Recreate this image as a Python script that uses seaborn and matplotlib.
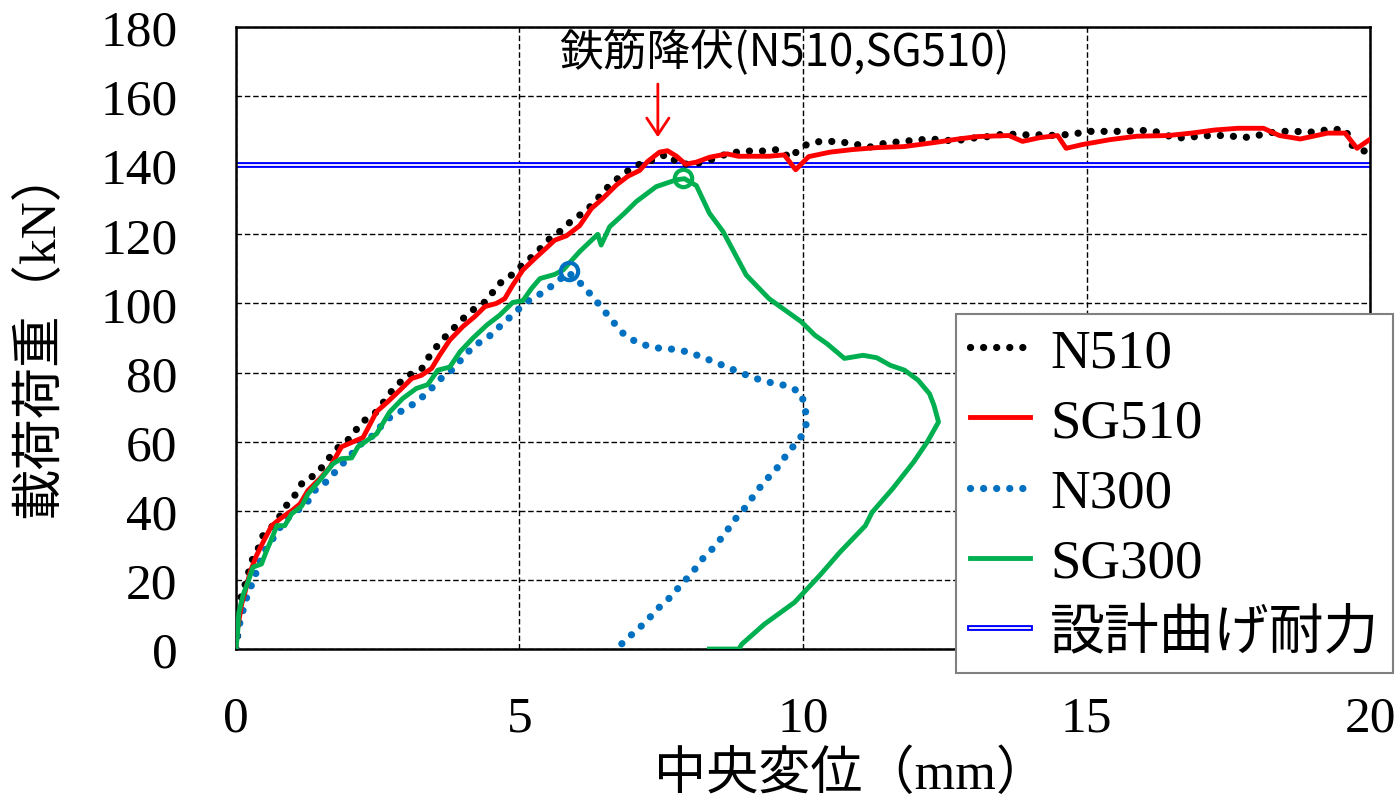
import matplotlib
matplotlib.use('Agg')
import matplotlib.pyplot as plt
import matplotlib.patheffects as pe
from matplotlib.font_manager import FontProperties
import seaborn as sns

# load-displacement data (mm, kN)
n510_x = [0, 0.06, 0.08, 0.16, 0.23, 0.32, 0.39, 0.48, 0.72, 0.85,
          1.02, 1.18, 1.43, 1.6, 1.8, 2.04, 2.2, 2.43, 2.61, 2.78,
          3.0, 3.28, 3.42, 3.61, 3.82, 4.04, 4.25, 4.44, 4.6, 4.85,
          5.06, 5.29, 5.5, 5.74, 5.94, 6.17, 6.38, 6.57, 6.82, 7.07,
          7.33, 7.6, 7.82, 8.1, 8.4, 8.69, 8.98, 9.28, 9.59, 9.77,
          9.99, 10.27, 10.57, 10.87, 11.16, 11.45, 11.77, 12.07, 12.36, 12.67,
          12.96, 13.27, 13.56, 13.87, 14.17, 14.47, 14.78, 15.07, 15.37, 15.67,
          15.97, 16.27, 16.56, 16.86, 17.17, 17.47, 17.78, 18.07, 18.37, 18.67,
          18.97, 19.27, 19.57, 19.67, 19.9]
n510_y = [0, 8, 14.5, 18.6, 22.6, 27.5, 29, 33, 36.8, 40.8,
          44, 48.4, 50.7, 54.5, 58.3, 61.4, 65.5, 67.8, 71.6, 75.4,
          78.8, 81.2, 85, 89, 92.5, 96.2, 99.1, 100.9, 105.2, 108.1,
          111.3, 114.5, 118.3, 121.2, 124.3, 126.7, 130.4, 133.9, 137.4, 140,
          141.4, 143.2, 140.3, 140.4, 141.7, 143.5, 144.1, 144.1, 144.6, 142,
          145.6, 146.8, 146.9, 146.3, 145.2, 146.4, 146.9, 147.4, 147.5, 147,
          147.8, 148.3, 149.1, 148.8, 148.8, 148.6, 149.1, 149.8, 149.8, 149.8,
          150.1, 149.6, 147.8, 148.2, 148.6, 148.6, 148, 148.8, 149.8, 149.8,
          149.6, 150.3, 150.4, 145.9, 144.1]

sg510_x = [0, 0.02, 0.1, 0.16, 0.25, 0.36, 0.48, 0.63, 0.78, 0.98,
           1.13, 1.27, 1.48, 1.66, 1.86, 2.24, 2.48, 2.68, 2.89, 3.1,
           3.27, 3.45, 3.59, 3.77, 4.0, 4.21, 4.39, 4.59, 4.74, 4.88,
           5.06, 5.27, 5.47, 5.62, 5.83, 6.06, 6.27, 6.47, 6.71, 6.91,
           7.12, 7.26, 7.47, 7.61, 7.77, 7.93, 8.12, 8.35, 8.66, 8.86,
           9.4, 9.67, 9.87, 10.1, 10.48, 10.85, 11.3, 11.78, 12.33, 12.74,
           13.08, 13.63, 13.87, 14.18, 14.49, 14.64, 14.93, 15.41, 15.89, 16.44,
           16.85, 17.26, 17.67, 18.12, 18.4, 18.77, 19.25, 19.56, 19.77, 19.99]
sg510_y = [0, 5, 13, 16.5, 22.3, 27, 31, 35.7, 37.7, 40,
           42, 45.9, 49.3, 52.7, 58.5, 61.2, 68.7, 71.6, 74.9, 78.3,
           79.2, 81.2, 85, 89.4, 93.3, 96.2, 99.1, 100, 101.4, 105.3,
           109.7, 113, 116, 118.3, 119.6, 122.5, 127.5, 130.4, 134.3, 136.8,
           138.5, 141.1, 143.8, 144.2, 142.6, 140.3, 140.9, 142.3, 143.3, 142.6,
           142.6, 143, 138.7, 142.5, 143.8, 144.5, 145.1, 145.4, 146.6, 147.6,
           148.3, 148.6, 146.9, 148, 148.6, 144.9, 146, 147.4, 148.4, 148.6,
           149.3, 150.2, 150.7, 150.7, 148.6, 147.6, 149.3, 149.3, 144.9, 147.4]

n300_x = [0, 0.03, 0.1, 0.18, 0.28, 0.39, 0.49, 0.63, 0.78, 0.98,
          1.22, 1.39, 1.6, 1.8, 2.01, 2.21, 2.46, 2.63, 2.89, 3.14,
          3.38, 3.58, 3.82, 4.0, 4.2, 4.44, 4.67, 4.89, 5.11, 5.36,
          5.59, 5.86, 6.05, 6.25, 6.45, 6.64, 6.83, 7.08, 7.38, 7.68,
          7.97, 8.25, 8.54, 8.82, 9.09, 9.37, 9.68, 9.95, 10.04, 10.06,
          9.95, 9.74, 9.58, 9.37, 9.18, 9.01, 8.82, 8.63, 8.45, 8.24,
          8.05, 7.85, 7.64, 7.42, 7.22, 7.0, 6.77]
n300_y = [0, 5, 9.7, 14.5, 18.8, 23.7, 28, 31.4, 35.3, 39.1,
          41.5, 45.9, 48.5, 52.2, 55.9, 59.4, 62.3, 66.2, 68.6, 71,
          74.2, 77.8, 80.9, 84.3, 87.8, 90.1, 93.6, 96.9, 100.3, 102.7,
          105.3, 109, 106.3, 102.7, 98.8, 94.9, 91.3, 88.6, 87.2, 86.8,
          86, 84.3, 82.4, 80.5, 78.7, 77.3, 76.3, 74.4, 70.3, 65.2,
          60.9, 57, 53.1, 49.3, 45.6, 41.5, 37.9, 33.6, 29.8, 26.3,
          22.2, 18.6, 14.7, 11.4, 7.7, 4.5, 1.0]

sg300_x = [0, 0.03, 0.05, 0.13, 0.21, 0.3, 0.45, 0.54, 0.63, 0.72,
           0.86, 0.98, 1.16, 1.27, 1.45, 1.71, 1.86, 2.04, 2.15, 2.48,
           2.71, 2.94, 3.18, 3.38, 3.56, 3.77, 3.95, 4.18, 4.42, 4.65,
           4.88, 5.06, 5.21, 5.36, 5.62, 5.77, 6.06, 6.38, 6.44, 6.59,
           6.85, 7.06, 7.41, 7.77, 7.91, 8.12, 8.35, 8.59, 9.0, 9.4,
           9.97, 10.21, 10.42, 10.73, 11.06, 11.3, 11.54, 11.79, 12.03, 12.23,
           12.31, 12.39, 12.19, 11.95, 11.58, 11.22, 11.1, 10.65, 10.29, 9.85,
           9.32, 8.92, 8.87, 8.35]
sg300_y = [0, 5, 10.6, 15.9, 19.3, 23.7, 24.6, 28.5, 31.9, 35.7,
           35.7, 39.1, 41.4, 44.9, 48.3, 53.6, 55.1, 55.3, 58.5, 62.3,
           68.6, 72.5, 75.4, 76.5, 80.7, 81.6, 86, 90, 93.7, 96.6,
           100.3, 100.8, 104.3, 107.2, 108.4, 109.7, 115, 120, 116.9, 122.2,
           126.1, 129.5, 133.8, 135.8, 136.1, 134.1, 126.1, 120.8, 108.2, 101.4,
           94.7, 90.8, 88.4, 84.1, 85, 84.3, 82.1, 80.7, 77.8, 73.9,
           70.5, 65.7, 59.9, 54.1, 46.4, 39.6, 35.7, 28, 21.2, 13.5,
           7.2, 1.4, 0, 0]

# peak points (circle markers)
n300_peak = (5.87, 109.3)
sg300_peak = (7.89, 136.2)

# design bending capacity
design_x = [0, 20]
design_y = [140, 140]

yield_x = 7.44
yield_text = '鉄筋降伏(N510,SG510)'

x_ticks = [0, 5, 10, 15, 20]
y_ticks = list(range(0, 181, 20))

SERIF_JP = ['Liberation Serif', 'Noto Sans CJK JP']

fig = plt.figure(figsize=(13.98, 8.03), dpi=100)
ax = fig.add_axes([0.1688, 0.1905, 0.8112, 0.7746])

# design line drawn as a blue double line
sns.lineplot(x=design_x, y=design_y, ax=ax, color='white', lw=1.3,
             label='設計曲げ耐力', zorder=2,
             path_effects=[pe.Stroke(linewidth=4.2, foreground='#0000FF'), pe.Normal()])

dot = (0, (0.01, 1.8))
sns.lineplot(x=n510_x, y=n510_y, ax=ax, sort=False, estimator=None,
             color='black', lw=5.2, linestyle=dot, dash_capstyle='round',
             label='N510', zorder=3)
sns.lineplot(x=n300_x, y=n300_y, ax=ax, sort=False, estimator=None,
             color='#0070C0', lw=5.2, linestyle=dot, dash_capstyle='round',
             label='N300', zorder=3)
sns.lineplot(x=sg510_x, y=sg510_y, ax=ax, sort=False, estimator=None,
             color='#FF0000', lw=3.5, label='SG510', zorder=4)
sns.lineplot(x=sg300_x, y=sg300_y, ax=ax, sort=False, estimator=None,
             color='#00B050', lw=3.5, label='SG300', zorder=4)

# peak circles
sns.lineplot(x=[n300_peak[0]], y=[n300_peak[1]], ax=ax, marker='o', markersize=12.5,
             markerfacecolor='none', markeredgecolor='#0070C0', markeredgewidth=3,
             zorder=5)
sns.lineplot(x=[sg300_peak[0]], y=[sg300_peak[1]], ax=ax, marker='o', markersize=12.5,
             markerfacecolor='none', markeredgecolor='#00B050', markeredgewidth=3,
             zorder=5)

# yield annotation
ax.annotate('', xy=(yield_x, 147.3), xytext=(yield_x, 164.3),
            arrowprops=dict(arrowstyle='->,head_length=0.6,head_width=0.4',
                            color='red', lw=2, mutation_scale=20))
ax.text(9.67, 173, yield_text, ha='center', va='center', fontsize=31.5,
        family=['Noto Sans CJK JP', 'DejaVu Sans'])

ax.set_xlim(0, 20)
ax.set_ylim(0, 180)
ax.set_xticks(x_ticks)
ax.set_yticks(y_ticks)
ax.tick_params(length=0, labelsize=37)
ax.tick_params(axis='y', pad=42)
ax.tick_params(axis='x', pad=33)
for lbl in ax.get_xticklabels() + ax.get_yticklabels():
    lbl.set_family(SERIF_JP)

ax.grid(True, color='black', linestyle=(0, (4, 2)), lw=1.0)
for s in ax.spines.values():
    s.set_color('black')
    s.set_linewidth(1.8)

ax.set_xlabel('中央変位（mm）', fontsize=37.5, family=SERIF_JP)
ax.set_ylabel('載荷荷重（kN）', fontsize=37, family=SERIF_JP)
ax.xaxis.set_label_coords(0.542, -0.162)
ax.yaxis.set_label_coords(-0.151, 0.51)

handles, labels = ax.get_legend_handles_labels()
order = ['N510', 'SG510', 'N300', 'SG300', '設計曲げ耐力']
hmap = dict(zip(labels, handles))
ax.legend([hmap[k] for k in order], order, loc='upper right',
          bbox_to_anchor=(0.9964, 0.6077), bbox_transform=fig.transFigure,
          borderaxespad=0, frameon=True, fancybox=False, framealpha=1,
          edgecolor='#808080', prop=FontProperties(family=SERIF_JP, size=39.5),
          handlelength=1.1, handletextpad=0.36, labelspacing=0.36,
          borderpad=0.25)
ax.get_legend().get_frame().set_linewidth(1.5)

fig.savefig('out.png', dpi=100)
